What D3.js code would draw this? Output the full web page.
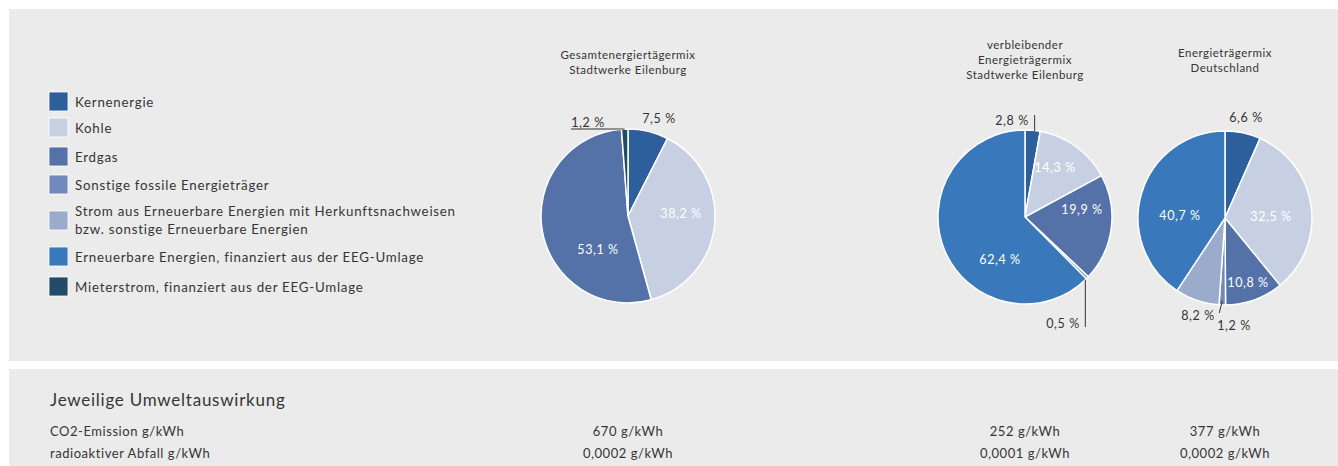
<!DOCTYPE html>
<html>
<head>
<meta charset="utf-8">
<script src="https://cdn.jsdelivr.net/npm/d3@7"></script>
<style>
  body { margin: 0; background: #fff; }
  text { font-family: Lato, "Open Sans", sans-serif; fill: #353535; }
</style>
</head>
<body>
<div id="chart"></div>
<script>
// categories and their colours
const categories = [
  "Kernenergie",
  "Kohle",
  "Erdgas",
  "Sonstige fossile Energieträger",
  "Strom aus Erneuerbare Energien mit Herkunftsnachweisen|bzw. sonstige Erneuerbare Energien",
  "Erneuerbare Energien, finanziert aus der EEG-Umlage",
  "Mieterstrom, finanziert aus der EEG-Umlage"
]
const colors = ["#2c5f9b", "#c7d0e3", "#5472a7", "#7189bb", "#9aabcc", "#3878bb", "#214b66"]

// pie values (category index, percent)
const gesamtCats = [0, 1, 2, 6]
const gesamtVals = [7.5, 38.2, 53.1, 1.2]

const verbleibCats = [0, 1, 2, 3, 5]
const verbleibVals = [2.8, 14.3, 19.9, 0.5, 62.4]

const deutschCats = [0, 1, 2, 3, 4, 5]
const deutschVals = [6.6, 32.5, 10.8, 1.2, 8.2, 40.7]

const titles = [
  ["Gesamtenergiertägermix", "Stadtwerke Eilenburg"],
  ["verbleibender", "Energieträgermix", "Stadtwerke Eilenburg"],
  ["Energieträgermix", "Deutschland"]
]

// environmental impact rows
const impactRows = ["CO2-Emission g/kWh", "radioaktiver Abfall g/kWh"]
const co2Vals = ["670 g/kWh", "252 g/kWh", "377 g/kWh"]
const wasteVals = ["0,0002 g/kWh", "0,0001 g/kWh", "0,0002 g/kWh"]

const W = 1338, H = 466

const svg = d3.select("#chart").append("svg")
  .attr("width", W).attr("height", H)

// panels
svg.append("rect").attr("x", 9).attr("y", 9).attr("width", W - 9).attr("height", 352).attr("fill", "#ebebeb")
svg.append("rect").attr("x", 9).attr("y", 369).attr("width", W - 9).attr("height", H - 369).attr("fill", "#ebebeb")

// legend
const legendTop = [92, 118, 147, 175, 211, 247, 277]
const legend = svg.append("g")
categories.forEach(function(c, i) {
  let g = legend.append("g").attr("transform", "translate(49," + legendTop[i] + ")")
  g.append("rect").attr("width", 19).attr("height", 19).attr("fill", colors[i])
   .attr("stroke", "#fff").attr("stroke-width", 0.8)
  let lines = c.split("|")
  let y0 = lines.length > 1 ? 5 : 15
  lines.forEach(function(l, j) {
    g.append("text").attr("x", 26).attr("y", y0 + j * 18)
     .attr("font-size", 13.3).attr("letter-spacing", 0.75).text(l)
  })
})

// pies
const radius = 87
const pies = [
  {cx: 628, cy: 216, cats: gesamtCats, vals: gesamtVals,
   titleY: 59,
   // label offsets from pie centre, inside flag
   labels: [[31, -98, false], [53, -3, true], [-30, 33, true], [-40, -94, false]],
   leaders: {3: "under"}},
  {cx: 1025, cy: 217, cats: verbleibCats, vals: verbleibVals,
   titleY: 49,
   labels: [[-13, -97, false], [30, -50, true], [57, -8, true], [38, 106, false], [-25, 42, true]],
   leaders: {0: "up", 3: "down"}},
  {cx: 1225, cy: 218, cats: deutschCats, vals: deutschVals,
   titleY: 57,
   labels: [[21, -101, false], [46, -2, true], [23, 64, true], [9, 107, false], [-27, 97, false], [-45, -3, true]],
   leaders: {3: "slant"}}
]

const pie = d3.pie().sort(null).value(function(d) { return d.v })
const arc = d3.arc().innerRadius(0).outerRadius(radius)
const fmt = function(v) { return d3.format(".1f")(v).replace(".", ",") + " %" }

pies.forEach(function(p, k) {
  let g = svg.append("g").attr("transform", "translate(" + p.cx + "," + p.cy + ")")
  let data = p.vals.map(function(v, i) { return {v: v, c: p.cats[i]} })
  let arcs = pie(data)

  g.selectAll("path").data(arcs).join("path")
   .attr("d", arc)
   .attr("fill", function(d) { return colors[d.data.c] })
   .attr("stroke", "#fff").attr("stroke-width", 1.5)

  titles[k].forEach(function(t, j) {
    svg.append("text").attr("x", p.cx).attr("y", p.titleY + j * 15)
       .attr("text-anchor", "middle").attr("font-size", 11.5)
       .attr("letter-spacing", 0.5).text(t)
  })

  arcs.forEach(function(a, i) {
    let lab = p.labels[i]
    g.append("text").attr("x", lab[0]).attr("y", lab[1] + 4.5)
     .attr("text-anchor", "middle").attr("font-size", 12.5)
     .attr("letter-spacing", 0.6)
     .style("fill", lab[2] ? "#fff" : "#353535")
     .text(fmt(a.data.v))

    let kind = p.leaders[i]
    if (!kind) return
    let mid = (a.startAngle + a.endAngle) / 2
    let ex = Math.sin(mid) * radius, ey = -Math.cos(mid) * radius
    let pts
    if (kind === "under") pts = [[ex, ey], [ex - 5, lab[1] + 7], [lab[0] - 17, lab[1] + 7]]
    else if (kind === "up") pts = [[ex + 2, ey + 1], [ex + 2, lab[1] - 5]]
    else if (kind === "down") pts = [[ex - 2, ey + 2], [ex - 2, lab[1] + 4]]
    else pts = [[ex, ey - 4], [ex - 3, ey + 8]]
    g.append("path").attr("d", d3.line()(pts))
     .attr("fill", "none").attr("stroke", "#333").attr("stroke-width", 1)
  })
})

// environmental impact
svg.append("text").attr("x", 50).attr("y", 406).attr("font-size", 17)
   .attr("letter-spacing", 0.75).text("Jeweilige Umweltauswirkung")
impactRows.forEach(function(r, i) {
  svg.append("text").attr("x", 50).attr("y", 436 + i * 22).attr("font-size", 13)
     .attr("letter-spacing", 0.55).text(r)
})
const valueX = pies.map(function(p) { return p.cx })
co2Vals.forEach(function(v, i) {
  svg.append("text").attr("x", valueX[i]).attr("y", 436).attr("text-anchor", "middle")
     .attr("font-size", 13).attr("letter-spacing", 0.55).text(v)
})
wasteVals.forEach(function(v, i) {
  svg.append("text").attr("x", valueX[i]).attr("y", 458).attr("text-anchor", "middle")
     .attr("font-size", 13).attr("letter-spacing", 0.55).text(v)
})
</script>
</body>
</html>
